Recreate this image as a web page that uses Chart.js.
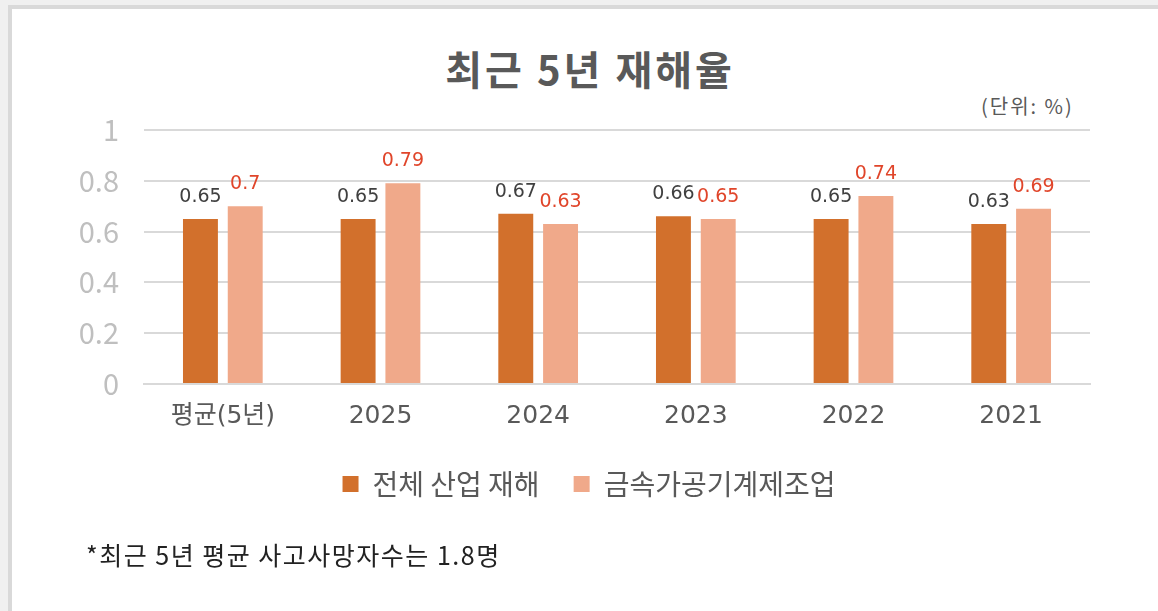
<!DOCTYPE html>
<html>
<head>
<meta charset="utf-8">
<script src="https://cdn.jsdelivr.net/npm/chart.js@4"></script>
<style>
  html, body { margin: 0; padding: 0; }
  body { width: 1158px; height: 611px; background: #f0f0f0; position: relative; overflow: hidden;
         font-family: 'Noto Sans CJK KR', 'Noto Sans', sans-serif; }
  #frame { position: absolute; left: 8px; top: 5px; width: 1200px; height: 700px; background: #fff;
           border-left: 4px solid #d9d9d9; border-top: 4px solid #d9d9d9; }
  #title { position: absolute; left: 0; width: 1180px; top: 38px; text-align: center;
           font-size: 40px; font-weight: 700; color: #595959; line-height: 60px; letter-spacing: 3px; }
  #unit { position: absolute; left: 981px; top: 91px; font-size: 20px; color: #595959; line-height: 30px;
          letter-spacing: 2px; }
  #note { position: absolute; left: 86px; top: 536px; font-size: 25px; color: #222; line-height: 36px;
          letter-spacing: 1.5px; }
  #wrap { position: absolute; left: 0; top: 0; width: 1158px; height: 611px; }
</style>
</head>
<body>
<div id="frame"></div>
<div id="title">최근 5년 재해율</div>
<div id="unit">(단위: %)</div>
<div id="wrap"><canvas id="myChart"></canvas></div>
<div id="note">*최근 5년 평균 사고사망자수는 1.8명</div>
<script>
const categories = ['평균(5년)', '2025', '2024', '2023', '2022', '2021'];
const seriesNames = ['전체 산업 재해', '금속가공기계제조업'];
const allIndustry = [0.65, 0.65, 0.67, 0.66, 0.65, 0.63];
const metalMachinery = [0.7, 0.79, 0.63, 0.65, 0.74, 0.69];
const yTicks = [0, 0.2, 0.4, 0.6, 0.8, 1];

const fontFamily = "'Noto Sans CJK KR', 'Noto Sans', sans-serif";
const wideFamily = "'DejaVu Sans', 'Noto Sans CJK KR', sans-serif";
const labelColors = ['#404040', '#e0452a'];

// draws the value above each bar
const valueLabels = {
    id: 'valueLabels',
    afterDatasetsDraw(chart) {
        const ctx = chart.ctx;
        ctx.save();
        ctx.font = '19px ' + wideFamily;
        ctx.textAlign = 'center';
        ctx.textBaseline = 'middle';
        chart.data.datasets.forEach((ds, i) => {
            const meta = chart.getDatasetMeta(i);
            ctx.fillStyle = labelColors[i];
            meta.data.forEach((bar, j) => {
                ctx.fillText(String(ds.data[j]), bar.x, bar.y - 22);
            });
        });
        ctx.restore();
    }
};

// centre the legend under the plot area instead of the whole canvas
const legendUnderPlot = {
    id: 'legendUnderPlot',
    afterLayout(chart) {
        if (chart.legend) {
            chart.legend.left = chart.chartArea.left - 56;
            chart.legend.right = chart.chartArea.right;
        }
    }
};

const ctx = document.getElementById('myChart').getContext('2d');
const myChart = new Chart(ctx, {
    type: 'bar',
    data: {
        labels: categories,
        datasets: [{
            label: seriesNames[0],
            data: allIndustry,
            backgroundColor: '#d2702c',
            categoryPercentage: 0.568,
            barPercentage: 0.78
        }, {
            label: seriesNames[1],
            data: metalMachinery,
            backgroundColor: '#f0a98a',
            categoryPercentage: 0.568,
            barPercentage: 0.78
        }]
    },
    options: {
        responsive: true,
        maintainAspectRatio: false,
        animation: false,
        layout: { padding: { left: 0, right: 68, top: 130, bottom: 103 } },
        plugins: {
            title: { display: false },
            tooltip: { enabled: false },
            legend: {
                position: 'bottom',
                labels: {
                    boxWidth: 16,
                    boxHeight: 16,
                    padding: 34,
                    color: '#595959',
                    font: { family: fontFamily, size: 28 }
                }
            }
        },
        scales: {
            x: {
                grid: { display: false },
                border: { color: '#d9d9d9', width: 2 },
                ticks: { color: '#595959', padding: 9, font: { family: wideFamily, size: 25 } },
                afterFit(scale) { scale.height = 52; }
            },
            y: {
                min: 0,
                max: 1,
                afterBuildTicks(scale) { scale.ticks = yTicks.map(v => ({ value: v })); },
                grid: { color: '#d9d9d9', lineWidth: 2, drawTicks: false },
                border: { display: false },
                ticks: { color: '#bfbfbf', padding: 25, font: { family: fontFamily, size: 29 },
                         callback: v => String(v) },
                afterFit(scale) { scale.width = 144; }
            }
        }
    },
    plugins: [valueLabels, legendUnderPlot]
});
</script>
</body>
</html>
